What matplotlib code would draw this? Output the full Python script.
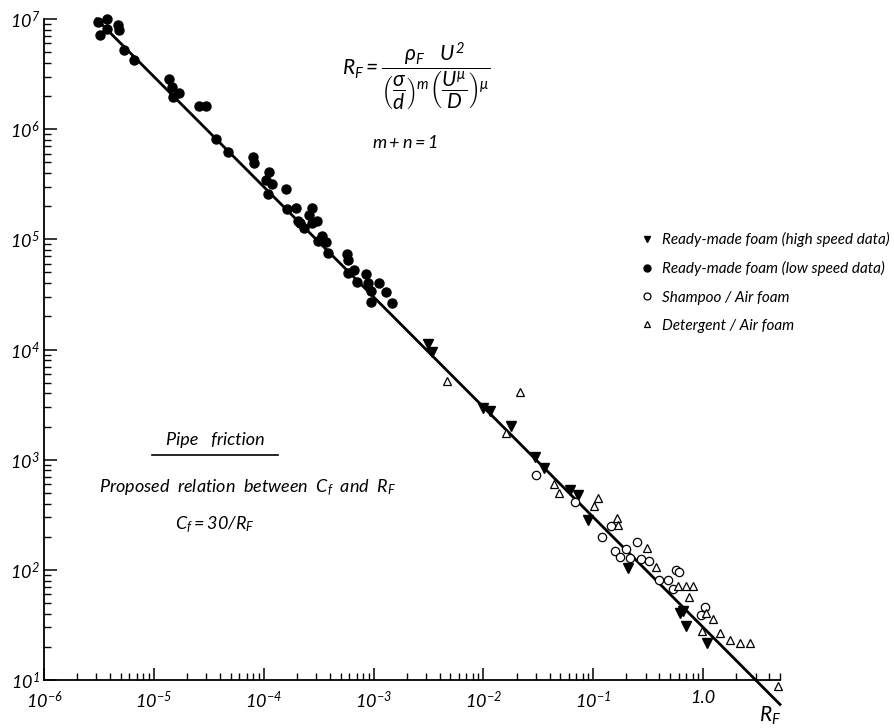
# Pipe friction: C_f against R_F for foam flows, log-log
import matplotlib.pyplot as plt
import numpy             as np
from matplotlib.lines import Line2D
from matplotlib.ticker import FixedLocator, FixedFormatter, LogLocator, NullFormatter

plt.rcParams['font.family'] = ['Lato', 'DejaVu Sans']
plt.rcParams['font.style'] = 'italic'
plt.rcParams['mathtext.fontset'] = 'custom'
plt.rcParams['mathtext.rm'] = 'Lato:italic'
plt.rcParams['mathtext.it'] = 'Lato:italic'
plt.rcParams['mathtext.default'] = 'it'

##-----------------------------------------------------------------------
# Data

# Ready-made foam, high speed data
hs_R = [3.14e-3, 3.42e-3, 9.96e-3, 1.15e-2, 1.79e-2, 2.96e-2, 3.58e-2, 6.18e-2,
        7.3e-2, 9.0e-2, 0.208, 0.62, 0.66, 0.69, 1.09]
hs_C = [1.12e4, 9.5e3, 2.95e3, 2.77e3, 2.03e3, 1.06e3, 8.4e2, 5.3e2,
        4.8e2, 2.85e2, 104, 40.7, 42.5, 31, 21.8]

# Ready-made foam, low speed data
ls_R = [3.1e-6, 3.24e-6, 3.75e-6, 3.75e-6, 4.72e-6, 4.8e-6, 5.35e-6, 6.6e-6,
        1.37e-5, 1.47e-5, 1.5e-5, 1.7e-5, 2.58e-5, 2.99e-5, 3.69e-5, 4.74e-5,
        8.0e-5, 8.2e-5, 1.12e-4, 1.05e-4, 1.19e-4, 1.1e-4, 1.6e-4, 1.63e-4,
        1.97e-4, 2.76e-4, 2.59e-4, 2.06e-4, 2.15e-4, 2.33e-4, 2.76e-4, 3.06e-4,
        3.4e-4, 3.13e-4, 3.7e-4, 3.86e-4, 5.75e-4, 5.87e-4, 5.87e-4, 6.65e-4,
        7.1e-4, 8.6e-4, 8.9e-4, 1.12e-3, 9.5e-4, 1.3e-3, 9.5e-4, 1.48e-3]
ls_C = [9.4e6, 7.2e6, 1.0e7, 8.1e6, 8.8e6, 7.9e6, 5.2e6, 4.25e6,
        2.86e6, 2.42e6, 1.96e6, 2.13e6, 1.63e6, 1.63e6, 8.15e5, 6.2e5,
        5.6e5, 4.9e5, 4.1e5, 3.46e5, 3.18e5, 2.58e5, 2.87e5, 1.89e5,
        1.93e5, 1.93e5, 1.66e5, 1.47e5, 1.41e5, 1.27e5, 1.41e5, 1.47e5,
        1.07e5, 9.7e4, 9.5e4, 7.5e4, 7.4e4, 6.5e4, 4.95e4, 5.3e4,
        4.1e4, 4.85e4, 4.0e4, 4.0e4, 3.4e4, 3.34e4, 2.7e4, 2.65e4]

# Shampoo / air foam
sh_R = [3.03e-2, 6.86e-2, 0.121, 0.146, 0.159, 0.176, 0.2, 0.217, 0.252,
        0.27, 0.324, 0.399, 0.482, 0.535, 0.57, 0.6, 1.03, 0.96]
sh_C = [730, 414, 200, 250, 149, 131, 155, 128, 180,
        126, 121, 81, 81, 67, 100, 95, 46, 39]

# Detergent / air foam
dt_R = [4.68e-3, 2.16e-2, 1.61e-2, 4.42e-2, 4.9e-2, 0.111, 0.102, 0.165,
        0.169, 0.31, 0.375, 0.594, 0.69, 0.80, 0.75, 1.07, 1.24, 0.98,
        1.43, 1.77, 2.18, 2.64, 4.84]
dt_C = [5.2e3, 4.1e3, 1.75e3, 600, 500, 450, 380, 297,
        256, 159, 106, 71.6, 71.6, 71.6, 57, 40.7, 35.9, 28,
        26.8, 23.2, 21.8, 21.8, 8.85]

# Proposed relation C_f = 30 / R_F
cf_const = 30.0
line_R = [3.0e-6, 5.0]

x_major = [1e-6, 1e-5, 1e-4, 1e-3, 1e-2, 1e-1, 1.0]
x_labels = [r'$10^{-6}$', r'$10^{-5}$', r'$10^{-4}$', r'$10^{-3}$',
            r'$10^{-2}$', r'$10^{-1}$', '1.0']
y_major = [1e1, 1e2, 1e3, 1e4, 1e5, 1e6, 1e7]
y_labels = [r'$10^{%d}$' % k for k in range(1, 8)]

##-----------------------------------------------------------------------
# Plot

fig = plt.figure(figsize=(8.95, 7.28), dpi=100)
ax = fig.add_axes([44/895, 48/728, 736/895, 661/728])
ax.set_xscale('log')
ax.set_yscale('log')
ax.set_xlim(1e-6, 5.0)
ax.set_ylim(10, 1e7)

line_C = [cf_const / r for r in line_R]
ax.plot(line_R, line_C, color='black', lw=2.0, clip_on=False, zorder=2)

ax.plot(ls_R, ls_C, 'o', ms=6.5, mfc='black', mec='black', clip_on=False, zorder=3)
ax.plot(hs_R, hs_C, 'v', ms=6.5, mfc='black', mec='black', clip_on=False, zorder=3)
ax.plot(sh_R, sh_C, 'o', ms=6, mfc='white', mec='black', mew=0.9, clip_on=False, zorder=3)
ax.plot(dt_R, dt_C, '^', ms=6, mfc='white', mec='black', mew=0.9, clip_on=False, zorder=3)

for s in ['top', 'right']:
    ax.spines[s].set_visible(False)
for s in ['left', 'bottom']:
    ax.spines[s].set_linewidth(1.3)

ax.xaxis.set_major_locator(FixedLocator(x_major))
ax.xaxis.set_major_formatter(FixedFormatter(x_labels))
ax.yaxis.set_major_locator(FixedLocator(y_major))
ax.yaxis.set_major_formatter(FixedFormatter(y_labels))
ax.xaxis.set_minor_locator(LogLocator(base=10, subs=np.arange(2, 10)))
ax.yaxis.set_minor_locator(LogLocator(base=10, subs=np.arange(2, 10)))
ax.xaxis.set_minor_formatter(NullFormatter())
ax.yaxis.set_minor_formatter(NullFormatter())
ax.tick_params(which='major', direction='in', length=9, width=1.1, labelsize=13)
ax.tick_params(which='minor', direction='in', length=5, width=1.0)
ax.tick_params(axis='x', which='major', pad=7)
ax.tick_params(axis='y', which='major', pad=3)

# axis name at the bottom right
fig.text(770/895, 1 - 716/728, r'$R_F$', fontsize=15, ha='center', va='center')

# definition of R_F
fig.text(416/895, 1 - 76/728,
         r'$R_F = \dfrac{\rho_F\ \ \ U^2}{\left(\dfrac{\sigma}{d}\right)^m \left(\dfrac{U^\mu}{D}\right)^\mu}$',
         fontsize=15, ha='center', va='center')
fig.text(405/895, 1 - 143/728, r'$m + n = 1$', fontsize=13, ha='center', va='center')

# annotation on the left
fig.text(215/895, 1 - 440/728, 'Pipe   friction', fontsize=13, ha='center', va='center')
fig.add_artist(Line2D([152/895, 278/895], [1 - 455/728, 1 - 455/728],
                      color='black', lw=1.2))
fig.text(247/895, 1 - 488/728, r'Proposed  relation  between  $C_f$  and  $R_F$',
         fontsize=13, ha='center', va='center')
fig.text(215/895, 1 - 525/728, r'$C_f = 30/R_F$', fontsize=13, ha='center', va='center')

# legend
handles = [
    Line2D([], [], ls='none', marker='v', ms=5, mfc='black', mec='black'),
    Line2D([], [], ls='none', marker='o', ms=5, mfc='black', mec='black'),
    Line2D([], [], ls='none', marker='o', ms=5, mfc='white', mec='black', mew=0.9),
    Line2D([], [], ls='none', marker='^', ms=5, mfc='white', mec='black', mew=0.9),
]
labels = ['Ready-made foam (high speed data)',
          'Ready-made foam (low speed data)',
          'Shampoo / Air foam',
          'Detergent / Air foam']
fig.legend(handles, labels, loc='upper left', bbox_to_anchor=(641/895, 1 - 232/728),
           frameon=False, fontsize=11, handlelength=0.8, handletextpad=0.55,
           labelspacing=0.93, borderaxespad=0, borderpad=0)

plt.savefig('out.png', dpi=100)
